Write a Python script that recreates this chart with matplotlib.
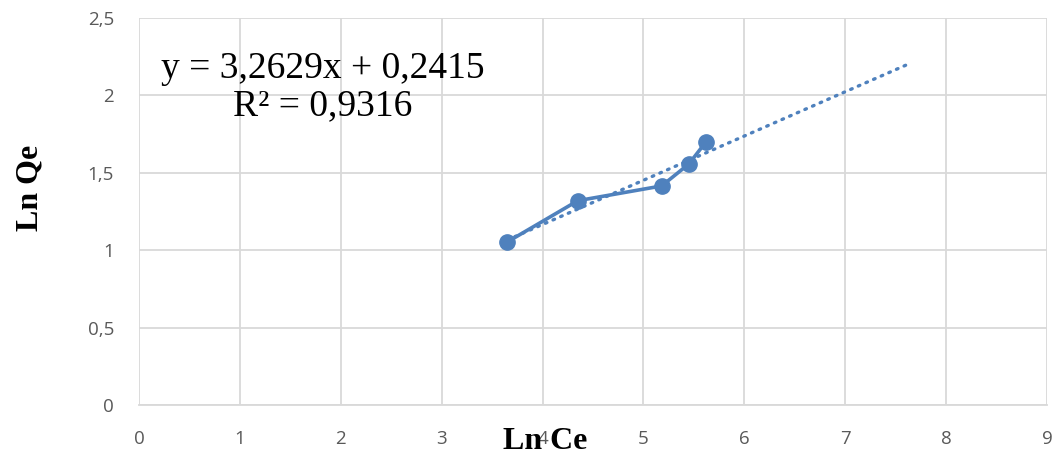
import numpy as np
import matplotlib.pyplot as plt

# Ln Ce / Ln Qe points
ln_ce = [3.65, 4.35, 5.18, 5.45, 5.62]
ln_qe = [1.053, 1.32, 1.415, 1.557, 1.70]

x_ticks = [0, 1, 2, 3, 4, 5, 6, 7, 8, 9]
y_ticks = [0, 0.5, 1, 1.5, 2, 2.5]
y_labels = ["0", "0,5", "1", "1,5", "2", "2,5"]

blue = "#4f81bd"
grid_grey = "#d9d9d9"

fig = plt.figure(figsize=(10.56, 4.58), dpi=100)
ax = fig.add_axes([0.1316, 0.1157, 0.8599, 0.845])

ax.plot(ln_ce, ln_qe, color=blue, lw=2.6, marker="o", ms=11, zorder=3)

# linear trendline, forecast 2 units forward
slope, icpt = np.polyfit(ln_ce, ln_qe, 1)
tx = np.array([min(ln_ce), max(ln_ce) + 2.02])
ax.plot(tx, slope * tx + icpt, color=blue, lw=2.4, ls=(0, (0.5, 2.0)),
        dash_capstyle="round", zorder=2)

ax.set_xlim(0, 9)
ax.set_ylim(0, 2.5)
ax.set_xticks(x_ticks)
ax.set_yticks(y_ticks)
ax.set_yticklabels(y_labels)
ax.grid(True, color=grid_grey, lw=1.3)
ax.set_axisbelow(True)
for s in ["top", "right", "left"]:
    ax.spines[s].set_visible(False)
ax.spines["bottom"].set_color(grid_grey)
ax.spines["bottom"].set_linewidth(1.3)
ax.tick_params(length=0, labelsize=13.5, labelcolor="#595959", pad=18)
for lab in ax.get_xticklabels() + ax.get_yticklabels():
    lab.set_family("Open Sans")

fig.text(0.306, 0.81, "y = 3,2629x + 0,2415\nR² = 0,9316", ha="center", va="center",
         family="Liberation Serif", fontsize=27, linespacing=1.1)

fig.text(0.516, 0.035, "Ln Ce", ha="center", va="center",
         family="Liberation Serif", fontweight="bold", fontsize=23)
fig.text(0.028, 0.59, "Ln Qe", ha="center", va="center", rotation=90,
         family="Liberation Serif", fontweight="bold", fontsize=23)

fig.savefig("out.png", dpi=100)
